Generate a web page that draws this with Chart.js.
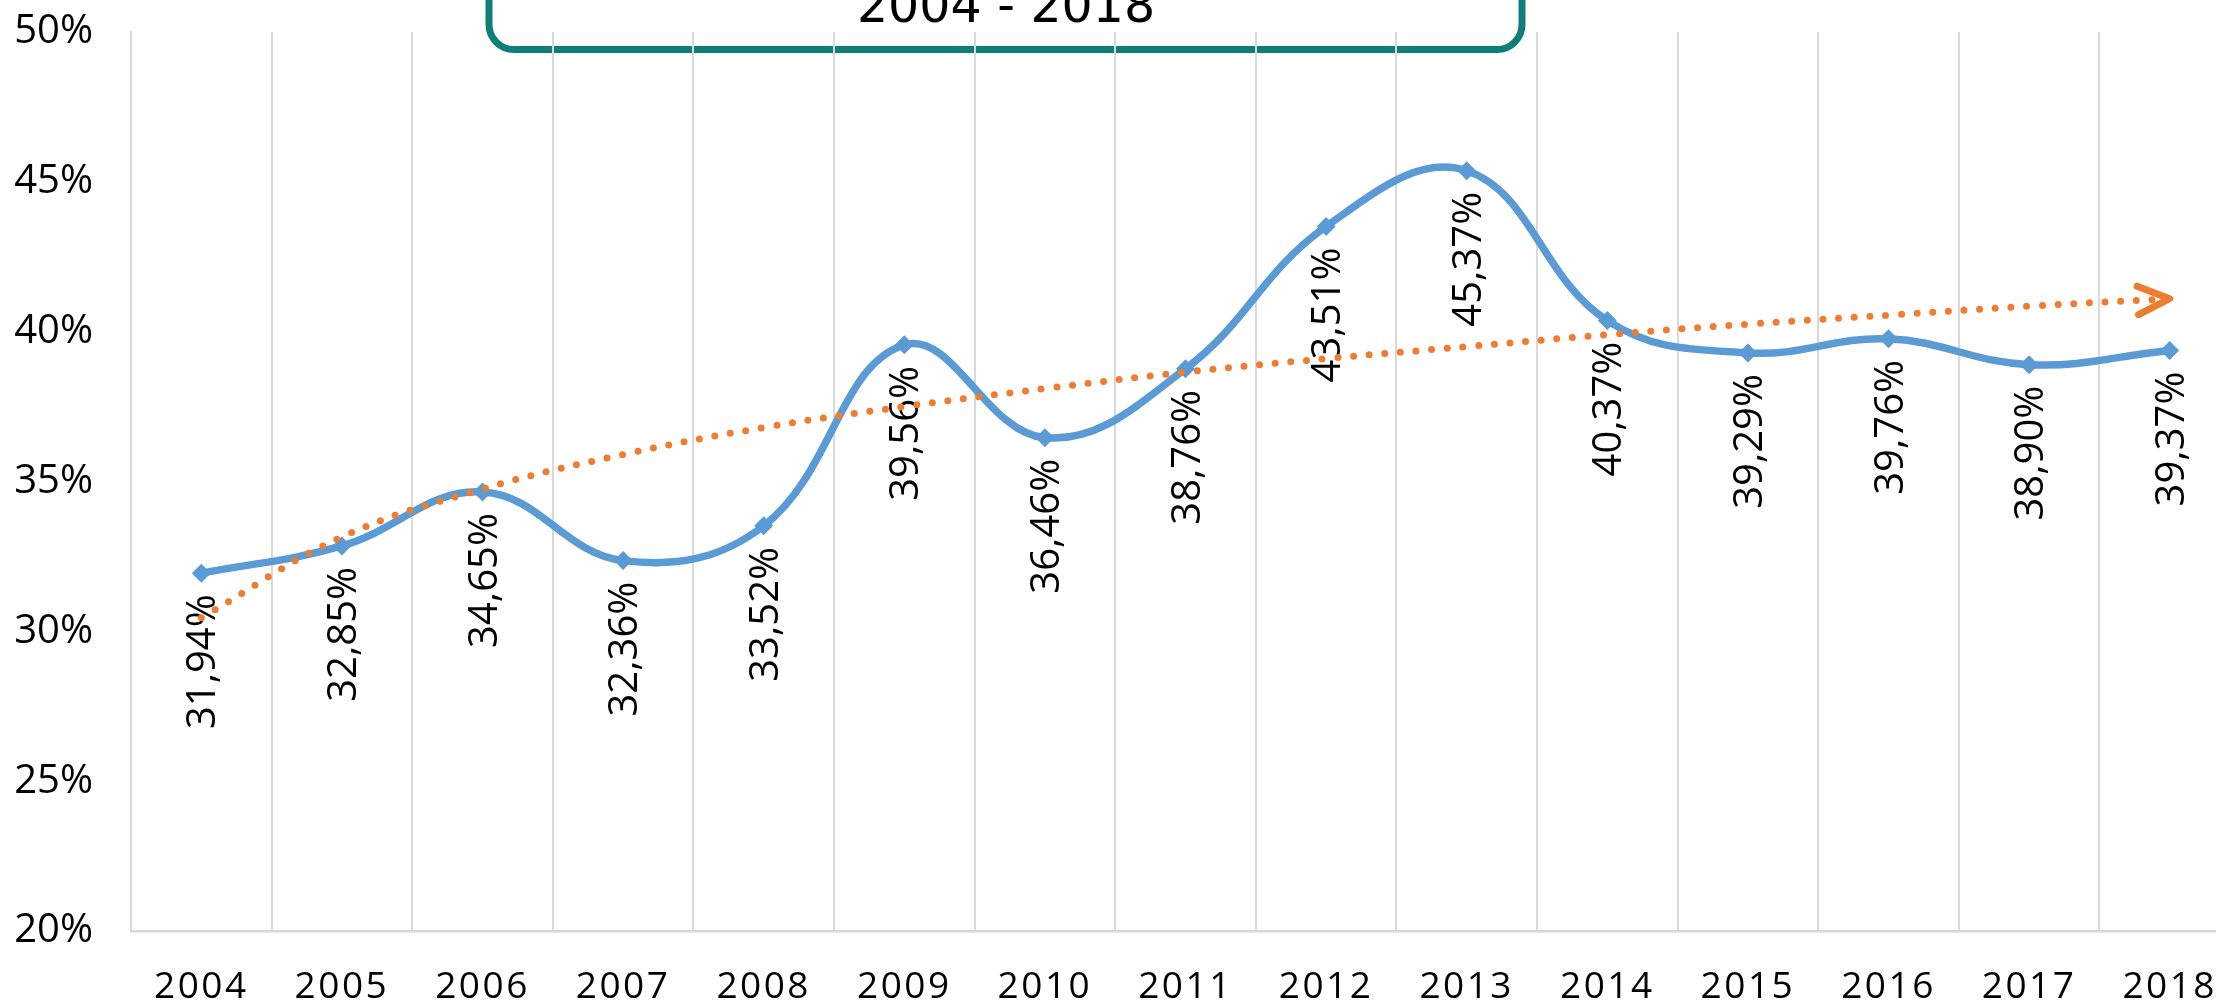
<!DOCTYPE html>
<html>
<head>
<meta charset="utf-8">
<script src="https://cdn.jsdelivr.net/npm/chart.js@4.4.1/dist/chart.umd.min.js"></script>
<style>
  html, body { margin: 0; padding: 0; background: #fff; overflow: hidden; }
  #caixa { width: 2241px; height: 1003px; }
</style>
</head>
<body>
<div id="caixa"><canvas id="grafico" width="2241" height="1003"></canvas></div>
<script>
// anos do eixo x
var anos = ['2004', '2005', '2006', '2007', '2008', '2009', '2010', '2011', '2012', '2013', '2014', '2015', '2016', '2017', '2018']

// valores da serie (%)
var valores = [31.94, 32.85, 34.65, 32.36, 33.52, 39.56, 36.46, 38.76, 43.51, 45.37, 40.37, 39.29, 39.76, 38.90, 39.37]

// linha de tendencia (%)
var tendencia = [30.45, 33.15, 34.75, 35.9, 36.8, 37.5, 38.1, 38.65, 39.1, 39.5, 39.9, 40.25, 40.55, 40.85, 41.1]

// ticks do eixo y
var ticksY = [20, 25, 30, 35, 40, 45, 50]

var azul = '#5B9BD5'
var laranja = '#ED7D31'
var verde = '#107E78'
var fonte = '"Open Sans", "DejaVu Sans", sans-serif'

function formatar(v) {
    return v.toFixed(2).replace('.', ',') + '%'
}

// caixa do titulo (cortada no topo)
var pluginTitulo = {
    id: 'titulo',
    beforeDraw: function (chart) {
        var ctx = chart.ctx
        ctx.save()
        ctx.strokeStyle = verde
        ctx.lineWidth = 7
        ctx.beginPath()
        ctx.roundRect(489, -60, 1033, 109.5, 25)
        ctx.stroke()
        ctx.fillStyle = '#000'
        ctx.font = '49px "DejaVu Sans", sans-serif'
        ctx.textAlign = 'center'
        ctx.textBaseline = 'alphabetic'
        ctx.fillText('2004 - 2018', 1006, 22)
        ctx.restore()
    }
}

// rotulos dos pontos, girados
var pluginRotulos = {
    id: 'rotulos',
    beforeDatasetsDraw: function (chart) {
        var ctx = chart.ctx
        var meta = chart.getDatasetMeta(1)
        ctx.save()
        ctx.fillStyle = '#000'
        ctx.font = '40px ' + fonte
        ctx.textAlign = 'right'
        ctx.textBaseline = 'alphabetic'
        for (let i = 0; i < meta.data.length; i++) {
            var p = meta.data[i]
            ctx.save()
            ctx.translate(p.x, p.y + 21)
            ctx.rotate(-Math.PI / 2)
            ctx.fillText(formatar(valores[i]), 0, 14)
            ctx.restore()
        }
        ctx.restore()
    },
    afterDatasetsDraw: function (chart) {
        var ctx = chart.ctx
        // seta no fim da tendencia
        var meta = chart.getDatasetMeta(0)
        var n = meta.data.length
        var a = meta.data[n - 2]
        var b = meta.data[n - 1]
        var ang = Math.atan2(b.y - a.y, b.x - a.x)
        var tam = 35
        var abre = 24 * Math.PI / 180
        ctx.save()
        ctx.strokeStyle = laranja
        ctx.lineWidth = 7
        ctx.lineCap = 'round'
        ctx.lineJoin = 'round'
        ctx.beginPath()
        ctx.moveTo(b.x - tam * Math.cos(ang - abre), b.y - tam * Math.sin(ang - abre))
        ctx.lineTo(b.x, b.y)
        ctx.lineTo(b.x - tam * Math.cos(ang + abre), b.y - tam * Math.sin(ang + abre))
        ctx.stroke()
        ctx.restore()
        // espaco entre letras dos anos
        ctx.letterSpacing = '2.5px'
    },
    afterDraw: function (chart) {
        chart.ctx.letterSpacing = '0px'
    }
}

var dados = {
    labels: anos,
    datasets: [
        {
            label: 'Tendência',
            data: tendencia,
            borderColor: laranja,
            borderWidth: 7,
            borderDash: [0, 15.7],
            borderCapStyle: 'round',
            pointRadius: 0,
            tension: 0.4,
            fill: false
        },
        {
            label: 'Percentual',
            data: valores,
            borderColor: azul,
            backgroundColor: azul,
            borderWidth: 7.5,
            pointStyle: 'rectRot',
            pointRadius: 9.5,
            pointBorderWidth: 0,
            pointBackgroundColor: azul,
            tension: 0.4,
            fill: false
        }
    ]
}

const config = {
    type: 'line',
    data: dados,
    options: {
        responsive: false,
        animation: false,
        layout: { autoPadding: false, padding: { top: 32, left: 0, right: 1, bottom: 0 } },
        plugins: {
            legend: { display: false },
            tooltip: { enabled: false }
        },
        scales: {
            x: {
                offset: true,
                grid: { offset: true, color: '#D9D9D9', lineWidth: 2, drawTicks: false },
                border: { color: '#D9D9D9', width: 2.5 },
                ticks: {
                    z: 1,
                    color: '#000',
                    padding: 34,
                    maxRotation: 0,
                    autoSkip: false,
                    font: { family: fonte, size: 37 }
                },
                afterFit: function (scale) {
                    scale.height = 72
                    scale.paddingLeft = 0
                    scale.paddingRight = 0
                }
            },
            y: {
                min: 20,
                max: 50,
                afterBuildTicks: function (scale) {
                    scale.ticks = ticksY.map(function (v) { return { value: v } })
                },
                grid: { display: false },
                border: { color: '#D9D9D9', width: 2 },
                ticks: {
                    color: '#000',
                    padding: 30,
                    font: { family: fonte, size: 40 },
                    callback: function (v) { return v + '%' }
                },
                afterFit: function (scale) {
                    scale.width = 131
                    scale.paddingTop = 0
                    scale.paddingBottom = 0
                }
            }
        }
    },
    plugins: [pluginTitulo, pluginRotulos]
}

let myChart = new Chart(document.getElementById('grafico'), config)
</script>
</body>
</html>
